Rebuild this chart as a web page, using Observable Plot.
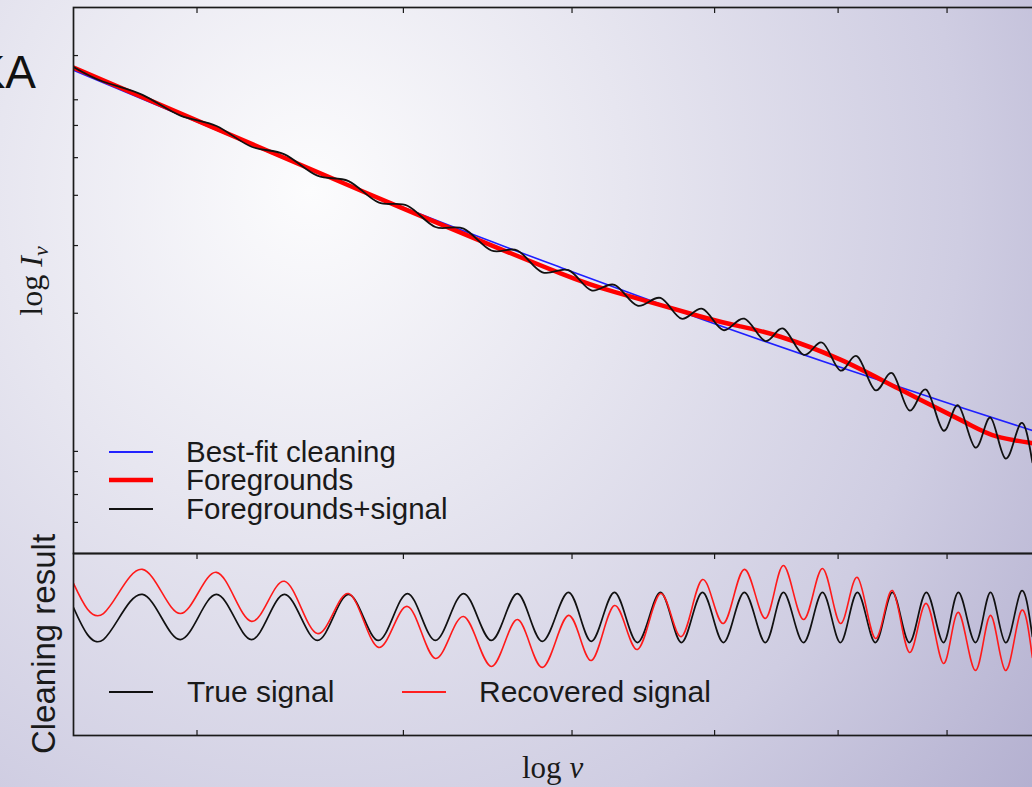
<!DOCTYPE html>
<html><head><meta charset="utf-8">
<script src="https://cdn.jsdelivr.net/npm/d3@7"></script>
<script src="https://cdn.jsdelivr.net/npm/@observablehq/plot@0.6"></script>
<style>
html,body{margin:0;padding:0;width:1032px;height:787px;overflow:hidden;}
body{position:relative;background:radial-gradient(ellipse 1050px 1100px at 310px 190px,#fcfcfd 0%,#e7e6f0 30%,#cfcde2 62%,#aca8cb 95%);font-family:"Liberation Sans",Arial,sans-serif;}
#top,#bottom{position:absolute;left:0;}
#top{top:0;} #bottom{top:540px;}
#overlay{position:absolute;left:0;top:0;}
</style></head><body>
<div id="top"></div><div id="bottom"></div>
<svg id="overlay" width="1032" height="787"></svg>
<script>
// ---- data ----
// x: frequency nu (log axis), arbitrary units; tick marks without labels
const xDomain = [35, 100];
const xTicks = [40, 50, 60, 70, 80, 90];
const topYDomain = [0, 10];
const topYTicks = [9.12, 8.31, 7.84, 7.25, 6.56, 5.64, 4.40, 1.87, 1.50, 1.08, 0.57];
const bottomYDomain = [-5.13, 2.78];

// Best-fit cleaning (log I)
const fitNu   = [35.00, 40.15, 49.47, 59.26, 68.94, 80.20, 91.61, 100.0];
const fitLogI = [8.85, 7.88, 6.41, 5.24, 4.30, 3.41, 2.66, 2.18];

// Foregrounds (log I)
const fgNu   = [35.00, 40.72, 49.84, 59.26, 63.22, 68.94, 71.98, 75.16, 80.20, 85.39, 91.61, 95.04, 98.70, 100.0];
const fgLogI = [8.90, 7.80, 6.34, 5.13, 4.76, 4.34, 4.16, 3.97, 3.55, 3.02, 2.42, 2.14, 2.02, 1.98];

// Shared frequencies of the signal's peaks and troughs
const sigNu = [35.00, 36.15, 37.71, 39.29, 40.85, 42.43, 43.97, 45.56, 47.12, 48.67,
               50.22, 51.76, 53.36, 54.99, 56.56, 58.11, 59.77, 61.27, 62.82, 64.40,
               66.02, 67.54, 69.09, 70.67, 72.29, 73.95, 75.41, 77.06, 78.66, 80.20,
               81.69, 83.29, 84.84, 86.41, 88.01, 89.65, 91.11, 92.80, 94.32, 95.86,
               97.43, 98.70];
// Foregrounds+signal (log I)
const fgSigLogI = [8.91, 8.64, 8.40, 8.02, 7.83, 7.45, 7.31, 6.92, 6.82, 6.43,
                   6.37, 5.98, 5.95, 5.55, 5.55, 5.15, 5.19, 4.82, 4.92, 4.54,
                   4.68, 4.30, 4.48, 4.09, 4.30, 3.89, 4.12, 3.64, 3.86, 3.35,
                   3.61, 2.99, 3.30, 2.62, 3.00, 2.25, 2.71, 1.94, 2.49, 1.74,
                   2.38, 1.67];
// Cleaning result: true signal
const trueSignal = [0.43, -0.96, 1.00, -0.96, 1.00, -0.96, 1.00, -1.00, 1.00, -1.00,
                    1.04, -1.00, 1.04, -1.00, 1.04, -1.04, 1.09, -1.04, 1.09, -1.09,
                    1.09, -1.09, 1.09, -1.09, 1.09, -1.09, 1.09, -1.09, 1.09, -1.09,
                    1.09, -1.09, 1.09, -1.09, 1.09, -1.09, 1.09, -1.09, 1.09, -1.09,
                    1.09, -0.83];
// Cleaning result: recovered signal
const recoveredSignal = [1.48, 0.17, 2.09, 0.17, 1.96, -0.17, 1.57, -0.70, 1.04, -1.30,
                         0.48, -1.78, 0.04, -2.13, -0.09, -2.17, 0.09, -1.87, 0.52, -1.39,
                         1.04, -0.83, 1.65, -0.26, 2.09, -0.04, 2.26, -0.09, 2.13, -0.26,
                         1.74, -0.91, 1.17, -1.52, 0.61, -2.00, 0.22, -2.30, 0.09, -2.30,
                         0.22, -1.74];

const topLegend = ["Best-fit cleaning", "Foregrounds", "Foregrounds+signal"];
const topLegendColors = ["#2222ff", "#ff0000", "#111111"];
const bottomLegend = ["True signal", "Recovered signal"];
const bottomLegendColors = ["#111111", "#ff2020"];
const yLabelTop = ["log ", "I", "ν"];
const yLabelBottom = "Cleaning result";
const xLabel = ["log ", "ν"];
const cornerText = "KA";

const svgStyle = "background:transparent;max-width:none;overflow:visible;";
const ink = "#1a1a1a";

// ---- top panel ----
const topPlot = Plot.plot({
  width: 1060, height: 554,
  marginLeft: 73, marginRight: 16, marginTop: 7, marginBottom: 1,
  style: svgStyle,
  x: {type: "log", domain: xDomain, axis: null},
  y: {domain: topYDomain, axis: null},
  marks: [
    Plot.line(fitNu, {x: fitNu, y: fitLogI, curve: "natural", stroke: "#1f1fff", strokeWidth: 1.6, clip: true}),
    Plot.line(fgNu, {x: fgNu, y: fgLogI, curve: "natural", stroke: "#ff0000", strokeWidth: 4.5, clip: true}),
    Plot.line(sigNu, {x: sigNu, y: fgSigLogI, curve: "natural", stroke: "#111111", strokeWidth: 1.8, clip: true}),
    Plot.axisY(topYTicks, {anchor: "left", tickSize: 5, dx: 5, fill: "none", label: null, stroke: ink, strokeWidth: 1.2}),
    Plot.axisX(xTicks, {anchor: "top", tickSize: 5, dy: 5, fill: "none", label: null, stroke: ink, strokeWidth: 1.2}),
    Plot.frame({stroke: ink, strokeWidth: 1.7})
  ]
});
document.getElementById("top").appendChild(topPlot);

// ---- bottom panel ----
const bottomPlot = Plot.plot({
  width: 1060, height: 247,
  marginLeft: 73, marginRight: 16, marginTop: 13, marginBottom: 52,
  style: svgStyle,
  x: {type: "log", domain: xDomain, axis: null},
  y: {domain: bottomYDomain, axis: null},
  marks: [
    Plot.line(sigNu, {x: sigNu, y: trueSignal, curve: "natural", stroke: "#111111", strokeWidth: 1.7, clip: true}),
    Plot.line(sigNu, {x: sigNu, y: recoveredSignal, curve: "natural", stroke: "#ff1a1a", strokeWidth: 1.6, clip: true}),
    Plot.axisX(xTicks, {anchor: "top", tickSize: 5, dy: 5, fill: "none", label: null, stroke: ink, strokeWidth: 1.2}),
    Plot.axisX(xTicks, {anchor: "bottom", tickSize: 5, dy: -5, fill: "none", label: null, stroke: ink, strokeWidth: 1.2}),
    Plot.frame({stroke: ink, strokeWidth: 1.7})
  ]
});
document.getElementById("bottom").appendChild(bottomPlot);

// ---- annotations: legends, axis titles ----
const ov = d3.select("#overlay");
const sans = "Liberation Sans, Arial, sans-serif";
const serif = "Liberation Serif, DejaVu Serif, serif";

ov.append("text").attr("x", 36).attr("y", 88).attr("text-anchor", "end")
  .attr("font-family", sans).attr("font-size", 46).attr("fill", "#111").text(cornerText);

const topLegendY = [452, 480, 509];
const topLegendW = [2, 4.5, 2];
topLegend.forEach((t, i) => {
  ov.append("line").attr("x1", 109).attr("x2", 153).attr("y1", topLegendY[i]).attr("y2", topLegendY[i])
    .attr("stroke", topLegendColors[i]).attr("stroke-width", topLegendW[i]);
  ov.append("text").attr("x", 186).attr("y", topLegendY[i] + 9.5)
    .attr("font-family", sans).attr("font-size", 29.5).attr("fill", ink).text(t);
});

const bottomLegendX = [109, 402];
const bottomTextX = [187, 479];
bottomLegend.forEach((t, i) => {
  ov.append("line").attr("x1", bottomLegendX[i]).attr("x2", bottomLegendX[i] + 44).attr("y1", 692).attr("y2", 692)
    .attr("stroke", bottomLegendColors[i]).attr("stroke-width", 1.8);
  ov.append("text").attr("x", bottomTextX[i]).attr("y", 702)
    .attr("font-family", sans).attr("font-size", 30).attr("fill", ink).text(t);
});

const yl = ov.append("text").attr("transform", "translate(42,281) rotate(-90)").attr("text-anchor", "middle")
  .attr("font-family", serif).attr("font-size", 32).attr("fill", ink);
yl.append("tspan").text(yLabelTop[0]);
yl.append("tspan").attr("font-style", "italic").text(yLabelTop[1]);
yl.append("tspan").attr("font-style", "italic").attr("font-size", 22).attr("dy", 6).text(yLabelTop[2]);

ov.append("text").attr("transform", "translate(55,644) rotate(-90)").attr("text-anchor", "middle")
  .attr("font-family", sans).attr("font-size", 33).attr("fill", ink).text(yLabelBottom);

const xl = ov.append("text").attr("x", 522).attr("y", 778)
  .attr("font-family", serif).attr("font-size", 31).attr("fill", ink);
xl.append("tspan").text(xLabel[0]);
xl.append("tspan").attr("font-style", "italic").text(xLabel[1]);
</script>
</body></html>
